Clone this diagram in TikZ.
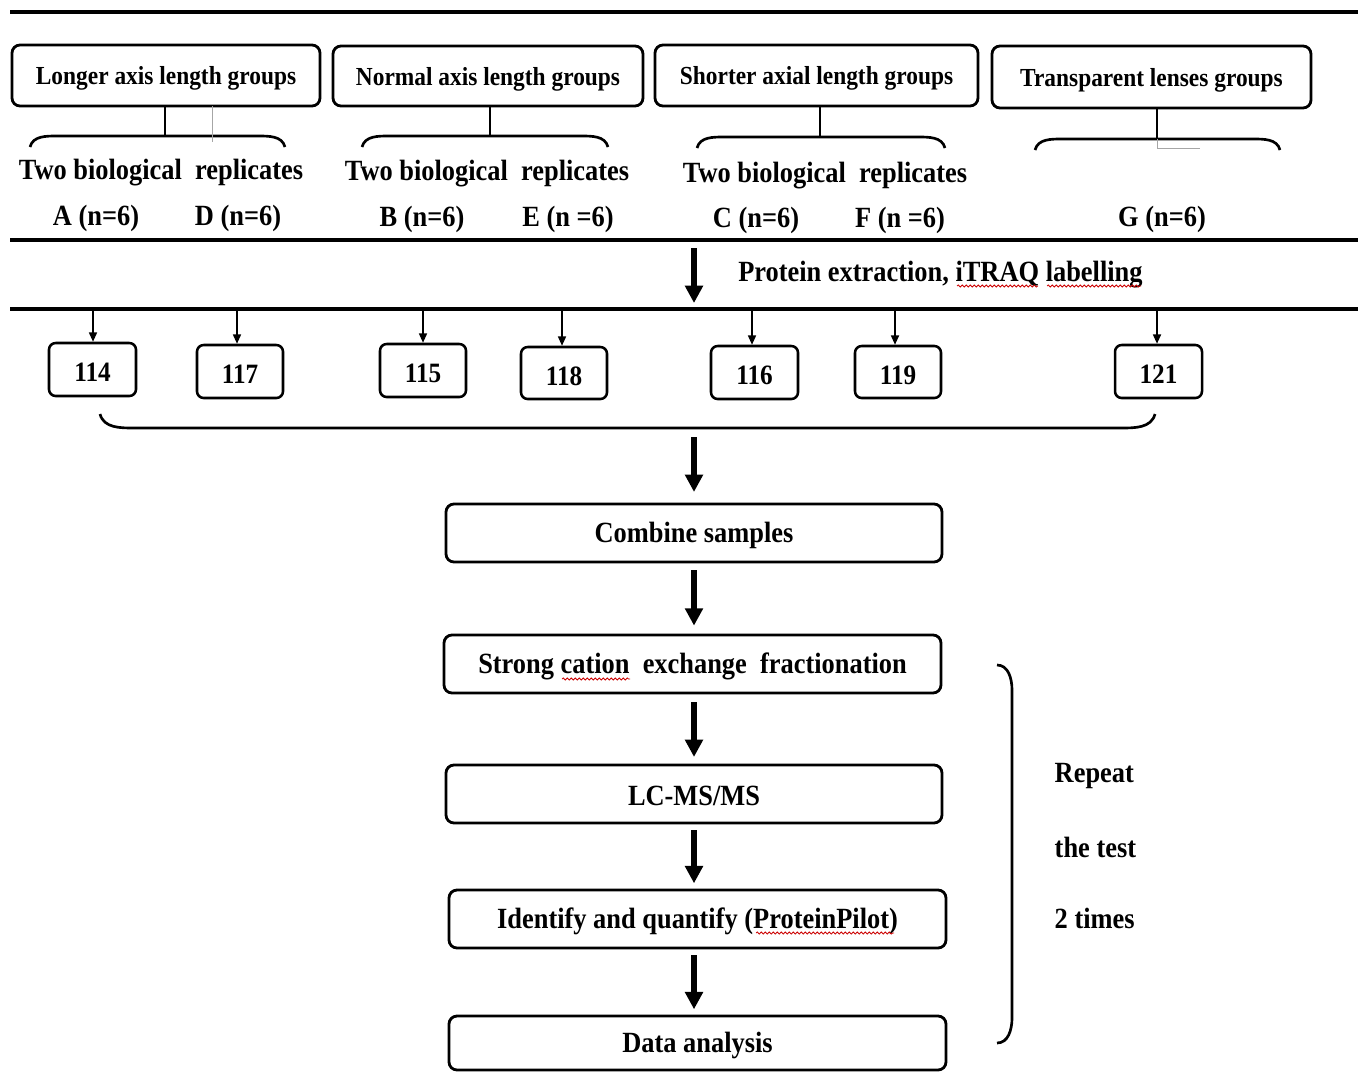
\documentclass[tikz,border=0pt]{standalone}
\usepackage{fontspec}
\setmainfont{Liberation Serif}[FakeStretch=0.9]
\usetikzlibrary{arrows.meta,fit,decorations.pathmorphing}
\begin{document}
\begin{tikzpicture}[x=0.75pt,y=-0.75pt,
 box/.style={draw,line width=2.1pt,rounded corners=6pt,inner sep=0pt},
 nbox/.style={draw,line width=1.9pt,rounded corners=5pt,inner sep=0pt},
 ntxt/.style={font=\fontsize{21}{25}\selectfont\bfseries, inner sep=0pt, yshift=-2.2pt},
 txt/.style={font=\fontsize{22}{26}\selectfont\bfseries, inner sep=0pt, yshift=-1.8pt},
 htxt/.style={font=\fontsize{19.5}{23}\selectfont\bfseries, inner sep=0pt, yshift=-2.2pt},
 ptxt/.style={font=\fontsize{22}{26}\selectfont\bfseries},
 bigarrow/.style={line width=4.5pt,-{Triangle[length=13pt,width=13pt]}},
 smallarrow/.style={line width=1.2pt,-{Triangle[length=7pt,width=6pt]}},
 rule/.style={line width=2.8pt},
 bracel/.style={line width=2pt},
 artifact/.style={gray!70,line width=0.6pt},
 wavy/.style={red!80!black, line width=0.6pt, decorate, decoration={snake,amplitude=0.8pt,segment length=3pt}}
]
\useasboundingbox (0,0) rectangle (1358,1072);
\fill[white] (0,0) rectangle (1358,1072);
% rules
\draw[rule] (10,12) -- (1358,12);
\draw[rule] (10,240) -- (1358,240);
\draw[rule] (10,309) -- (1358,309);
% group headers
\node[box,fit={(12,45)(320,106)}] (h1) {};
\node[box,fit={(333,46)(643,106)}] (h2) {};
\node[box,fit={(655,45)(978,106)}] (h3) {};
\node[box,fit={(992,46)(1311,108)}] (h4) {};
\node[htxt] (t1) at (h1.center) {Longer axis length groups};
\node[htxt] (t2) at (h2.center) {Normal axis length groups};
\node[htxt] (t3) at (h3.center) {Shorter axial length groups};
\node[htxt] (t4) at (h4.center) {Transparent\ lenses groups};
% braces under headers
\coordinate (b1) at (165,136);
\coordinate (b2) at (490,136);
\coordinate (b3) at (820,137);
\coordinate (b4) at (1157,139);
\draw[bracel] (h1.south -| b1) -- (b1);
\draw[bracel] (h2.south -| b2) -- (b2);
\draw[bracel] (h3.south -| b3) -- (b3);
\draw[bracel] (h4.south -| b4) -- (b4);
\draw[bracel] (30,147) to[out=75,in=180] (58,136) -- (257,136) to[out=0,in=105] (285,147);
\draw[bracel] (362,147) to[out=75,in=180] (390,136) -- (580,136) to[out=0,in=105] (608,147);
\draw[bracel] (697,148) to[out=75,in=180] (725,137) -- (917,137) to[out=0,in=105] (945,148);
\draw[bracel] (1035,150) to[out=75,in=180] (1063,139) -- (1252,139) to[out=0,in=105] (1280,150);
\draw[artifact] (212,106) -- (212,142);
\draw[artifact] (1157,139) -- (1157,148) -- (1200,148);
% replicate texts
\node[ptxt] (r1) at (161,173) {Two biological\ \ replicates};
\node[ptxt] (r2) at (487,174) {Two biological\ \ replicates};
\node[ptxt] (r3) at (825,176) {Two biological\ \ replicates};
\node[ptxt] (sA) at (96,218) {A (n=6)};
\node[ptxt] (sD) at (238,218) {D (n=6)};
\node[ptxt] (sB) at (422,219) {B (n=6)};
\node[ptxt] (sE) at (568,219) {E (n =6)};
\node[ptxt] (sC) at (756,220) {C (n=6)};
\node[ptxt] (sF) at (900,220) {F (n =6)};
\node[ptxt] (sG) at (1162,219) {G (n=6)};
% protein extraction
\coordinate (pa) at (694,248);
\coordinate (pb) at (694,303);
\draw[bigarrow] (pa) -- (pb);
\node[txt,anchor=west] (pe) at (738,272) {Protein extraction,\ iTRAQ labelling};
\draw[wavy] (957,286) -- (1038,286);
\draw[wavy] (1047,286) -- (1141,286);
% labels
\node[nbox,fit={(49,343)(136,396)}] (n114) {};
\node[nbox,fit={(197,345)(283,398)}] (n117) {};
\node[nbox,fit={(380,344)(466,397)}] (n115) {};
\node[nbox,fit={(521,347)(607,399)}] (n118) {};
\node[nbox,fit={(711,346)(798,399)}] (n116) {};
\node[nbox,fit={(855,346)(941,398)}] (n119) {};
\node[nbox,fit={(1115,345)(1202,398)}] (n121) {};
\foreach \n/\t in {n114/114,n117/117,n115/115,n118/118,n116/116,n119/119,n121/121}{
  \node[ntxt] (l\n) at (\n.center) {\t};
}
\foreach \x/\n in {93/n114,237/n117,423/n115,562/n118,752/n116,895/n119,1157/n121}{
  \coordinate (a\n) at (\x,310);
  \draw[smallarrow] (a\n) -- (a\n |- \n.north);
}
% bottom brace
\draw[bracel] (100,414) to[out=-75,in=180] (135,428) -- (1120,428) to[out=0,in=-105] (1155,414);
% process
\node[box,fit={(446,504)(942,562)}] (comb) {};
\node[box,fit={(444,635)(941,693)}] (scx) {};
\node[box,fit={(446,765)(942,823)}] (lc) {};
\node[box,fit={(449,890)(946,948)}] (idq) {};
\node[box,fit={(449,1016)(946,1070)}] (da) {};
\node[txt] (tcomb) at (comb.center) {Combine samples};
\node[txt] (tscx) at (scx.center) {Strong cation\ \ exchange\ \ fractionation};
\node[txt] (tlc) at (lc.center) {LC-MS/MS};
\node[txt] (tidq) at (idq.center) {Identify and quantify (ProteinPilot)};
\node[txt] (tda) at (da.center) {Data analysis};
\coordinate (c0) at (694,437);
\draw[bigarrow,shorten >=8pt] (c0) -- (c0 |- comb.north);
\coordinate (c1) at (694,570);
\draw[bigarrow,shorten >=6pt] (c1) -- (c1 |- scx.north);
\coordinate (c2) at (694,702);
\draw[bigarrow,shorten >=5pt] (c2) -- (c2 |- lc.north);
\coordinate (c3) at (694,830);
\draw[bigarrow,shorten >=4pt] (c3) -- (c3 |- idq.north);
\coordinate (c4) at (694,955);
\draw[bigarrow,shorten >=4pt] (c4) -- (c4 |- da.north);
\draw[wavy] (562,679) -- (630,679);
\draw[wavy] (756,933) -- (894,933);
% repeat brace
\draw[bracel] (997,665) to[out=0,in=90] (1012,690) -- (1012,1018) to[out=-90,in=0] (997,1043);
\node[ptxt,anchor=west] (rp1) at (1050,776) {Repeat};
\node[ptxt,anchor=west] (rp2) at (1050,847) {the test};
\node[ptxt,anchor=west] (rp3) at (1050,918) {2 times};
\end{tikzpicture}
\end{document}
